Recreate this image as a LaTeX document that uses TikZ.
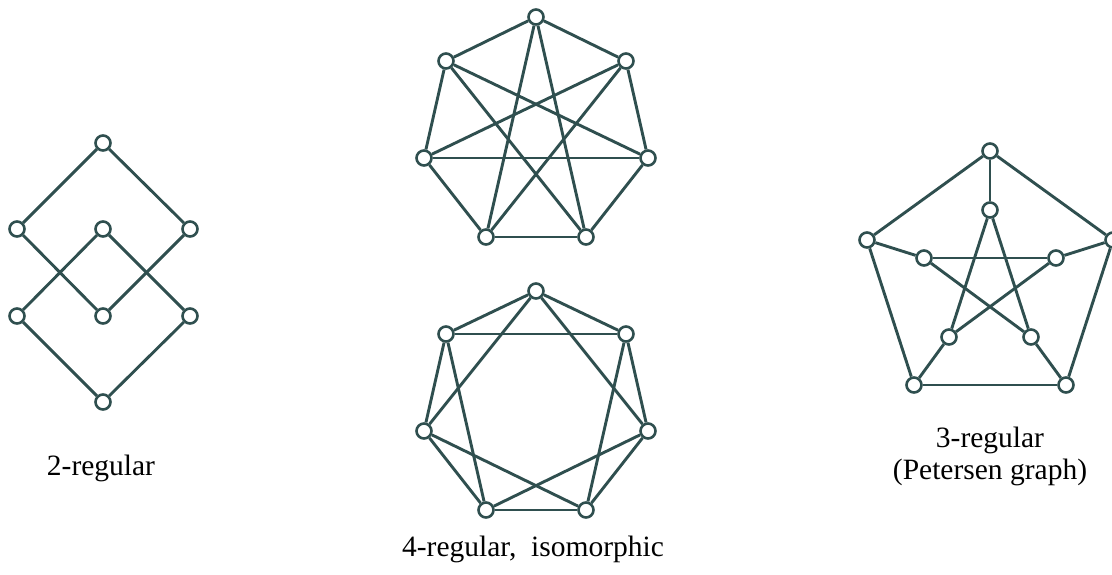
\documentclass[tikz,border=0pt]{standalone}
\usepackage{fontspec}
\setmainfont{Liberation Serif}
\usepackage{xcolor}
\usepackage{tikz}
\definecolor{slate}{RGB}{47,79,79}

\begin{document}
\begin{tikzpicture}[
        x=1pt, y=-1pt,
        vertex/.style={circle, draw=slate, line width=2.6pt, fill=white, inner sep=0pt, minimum size=15pt},
        link/.style={draw=slate, line width=2.9pt},
        caption/.style={font=\fontsize{29.5}{32}\selectfont, align=center}
    ]
    \useasboundingbox (0,0) rectangle (1112,574);

    % 2-regular graph
    \node[vertex] (a1) at (103,143) {};
    \node[vertex] (a2) at (17,229) {};
    \node[vertex] (a3) at (103,229) {};
    \node[vertex] (a4) at (190,229) {};
    \node[vertex] (a5) at (17,316) {};
    \node[vertex] (a6) at (103,316) {};
    \node[vertex] (a7) at (190,316) {};
    \node[vertex] (a8) at (103,402) {};

    \draw[link] (a1) -- (a2);
    \draw[link] (a1) -- (a4);
    \draw[link] (a2) -- (a6);
    \draw[link] (a4) -- (a6);
    \draw[link] (a3) -- (a5);
    \draw[link] (a3) -- (a7);
    \draw[link] (a5) -- (a8);
    \draw[link] (a7) -- (a8);

    \node[caption] (c1) at (101,468) {2-regular};

    % 4-regular heptagon, top
    \node[vertex] (h1) at (536,17) {};
    \node[vertex] (h2) at (626,61) {};
    \node[vertex] (h3) at (648,158) {};
    \node[vertex] (h4) at (586,237) {};
    \node[vertex] (h5) at (486,237) {};
    \node[vertex] (h6) at (424,158) {};
    \node[vertex] (h7) at (446,61) {};

    \draw[link] (h1) -- (h2);
    \draw[link] (h2) -- (h3);
    \draw[link] (h3) -- (h4);
    \draw[link] (h4) -- (h5);
    \draw[link] (h5) -- (h6);
    \draw[link] (h6) -- (h7);
    \draw[link] (h7) -- (h1);
    \draw[link] (h1) -- (h4);
    \draw[link] (h2) -- (h5);
    \draw[link] (h3) -- (h6);
    \draw[link] (h4) -- (h7);
    \draw[link] (h5) -- (h1);
    \draw[link] (h6) -- (h2);
    \draw[link] (h7) -- (h3);

    % 4-regular heptagon, bottom
    \node[vertex] (k1) at (536,291) {};
    \node[vertex] (k2) at (626,334) {};
    \node[vertex] (k3) at (648,431) {};
    \node[vertex] (k4) at (586,510) {};
    \node[vertex] (k5) at (486,510) {};
    \node[vertex] (k6) at (424,431) {};
    \node[vertex] (k7) at (446,334) {};

    \draw[link] (k1) -- (k2);
    \draw[link] (k2) -- (k3);
    \draw[link] (k3) -- (k4);
    \draw[link] (k4) -- (k5);
    \draw[link] (k5) -- (k6);
    \draw[link] (k6) -- (k7);
    \draw[link] (k7) -- (k1);
    \draw[link] (k1) -- (k3);
    \draw[link] (k2) -- (k4);
    \draw[link] (k3) -- (k5);
    \draw[link] (k4) -- (k6);
    \draw[link] (k5) -- (k7);
    \draw[link] (k6) -- (k1);
    \draw[link] (k7) -- (k2);

    \node[caption] (c2) at (533,549) {4-regular,\ \ isomorphic};

    % Petersen graph, outer ring
    \node[vertex] (p1) at (990,151) {};
    \node[vertex] (p2) at (1113,240) {};
    \node[vertex] (p3) at (1066,385) {};
    \node[vertex] (p4) at (914,385) {};
    \node[vertex] (p5) at (867,240) {};

    % inner star
    \node[vertex] (q1) at (990,210) {};
    \node[vertex] (q2) at (1056,258) {};
    \node[vertex] (q3) at (1031,337) {};
    \node[vertex] (q4) at (949,337) {};
    \node[vertex] (q5) at (924,258) {};

    \draw[link] (p1) -- (p2);
    \draw[link] (p2) -- (p3);
    \draw[link] (p3) -- (p4);
    \draw[link] (p4) -- (p5);
    \draw[link] (p5) -- (p1);
    \draw[link] (p1) -- (q1);
    \draw[link] (p2) -- (q2);
    \draw[link] (p3) -- (q3);
    \draw[link] (p4) -- (q4);
    \draw[link] (p5) -- (q5);
    \draw[link] (q1) -- (q3);
    \draw[link] (q3) -- (q5);
    \draw[link] (q5) -- (q2);
    \draw[link] (q2) -- (q4);
    \draw[link] (q4) -- (q1);

    \node[caption] (c3) at (990,456) {3-regular\\(Petersen graph)};
\end{tikzpicture}
\end{document}
